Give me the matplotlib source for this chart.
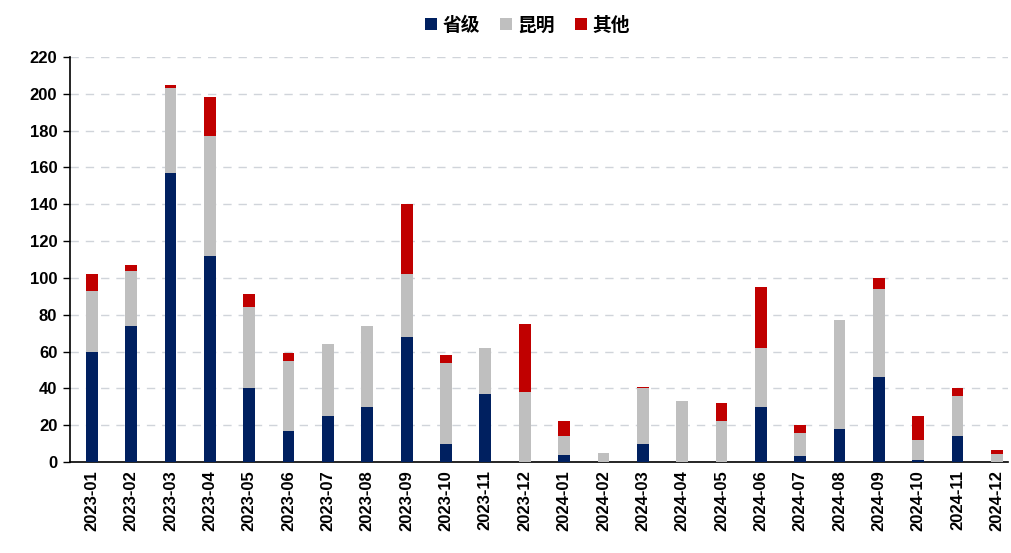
import numpy as np
import matplotlib
matplotlib.use('Agg')
import matplotlib.pyplot as plt

plt.rcParams['font.family'] = ['Liberation Sans', 'Noto Sans CJK SC', 'DejaVu Sans']

months = ['2023-01', '2023-02', '2023-03', '2023-04', '2023-05', '2023-06',
          '2023-07', '2023-08', '2023-09', '2023-10', '2023-11', '2023-12',
          '2024-01', '2024-02', '2024-03', '2024-04', '2024-05', '2024-06',
          '2024-07', '2024-08', '2024-09', '2024-10', '2024-11', '2024-12']
# 省级
provincial = [60, 74, 157, 112, 40, 17, 25, 30, 68, 10, 37, 0,
              4, 0, 10, 0, 0, 30, 3, 18, 46, 1, 14, 0]
# 昆明
kunming = [33, 30, 46, 65, 44, 38, 39, 44, 34, 44, 25, 38,
           10, 5, 30, 33, 22, 32, 13, 59, 48, 11, 22, 4.5]
# 其他
other = [9, 3, 1.5, 21, 7, 4, 0, 0, 38, 4, 0, 37,
         8, 0, 0.7, 0, 10, 33, 4, 0, 6, 13, 4, 2]

x = np.arange(len(months))
prov = np.array(provincial)
km = np.array(kunming)
oth = np.array(other)

fig = plt.figure(figsize=(10.11, 5.53), dpi=100)
ax = fig.add_axes([0.069, 0.1646, 0.928, 0.7324])

w = 0.3
ax.bar(x, prov, w, color='#002060', label='省级', zorder=3)
ax.bar(x, km, w, bottom=prov, color='#BFBFBF', label='昆明', zorder=3)
ax.bar(x, oth, w, bottom=prov + km, color='#C00000', label='其他', zorder=3)

ax.set_ylim(0, 220)
ax.set_yticks(np.arange(0, 221, 20))
ax.set_xlim(-0.56, 23.28)
ax.set_xticks(x)
ax.set_xticklabels(months, rotation=90, fontsize=12, fontweight='bold')
for lab in ax.get_yticklabels():
    lab.set_fontsize(12)
    lab.set_fontweight('bold')

ax.yaxis.grid(True, linestyle=(0, (6, 5)), color='#D0D4DA', linewidth=1, zorder=0)
ax.spines['top'].set_visible(False)
ax.spines['right'].set_visible(False)
ax.spines['left'].set_linewidth(1.2)
ax.spines['bottom'].set_linewidth(1.2)
ax.tick_params(axis='x', length=0, pad=6)
ax.tick_params(axis='y', length=5, width=1, direction='out', pad=4)

leg = ax.legend(loc='center', bbox_to_anchor=(0.488, 1.078), ncol=3, frameon=False,
                handlelength=0.6, handleheight=0.6, handletextpad=0.3, columnspacing=1.1,
                prop={'family': ['Noto Sans CJK SC'], 'weight': 'bold', 'size': 13.5})

fig.savefig('out.png', dpi=100)
